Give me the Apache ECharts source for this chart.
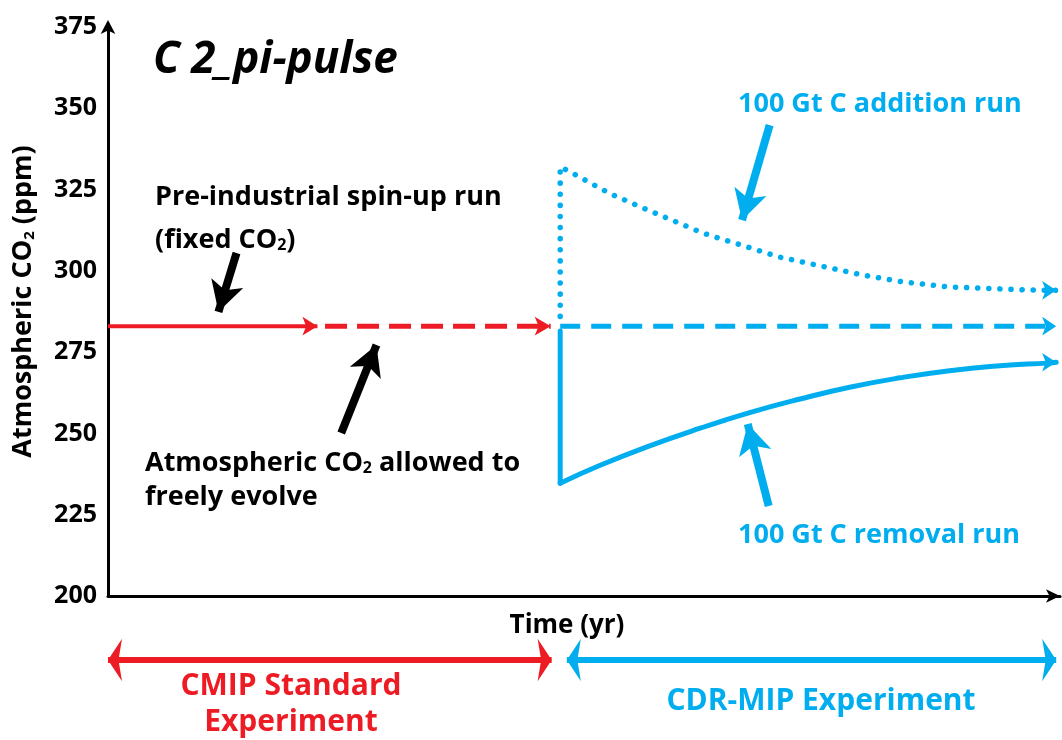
<!DOCTYPE html>
<html>
<head>
<meta charset="utf-8">
<script src="https://cdn.jsdelivr.net/npm/echarts@6/dist/echarts.min.js"></script>
<style>
  html, body { margin: 0; padding: 0; background: #fff; }
  #chart { width: 1062px; height: 740px; }
</style>
</head>
<body>
<div id="chart"></div>
<script>
/* C2_pi-pulse schematic: spin-up, free-running control, +/-100 GtC pulses.
   Time axis is unitless (0..100), CO2 in ppm. */
const RED = "#ed1c24", BLUE = "#00aeef", FONT = "'Open Sans'";

const Y_TICKS = [200, 225, 250, 275, 300, 325, 350, 375];
const PI_CO2 = 283;                       // pre-industrial level (ppm)
const spinupX = [0, 22.0];                // fixed-CO2 spin-up
const freeX = [22.8, 46.5];               // CO2 allowed to evolve
const PULSE_X = 47.5;
const controlX = [47.5, 99.6];
const additionX = [47.5, 47.5, 48.5, 52.7, 55.9, 62.5, 70.6, 79.3, 83.5, 88.1, 96.8, 99.6];
const additionY = [286, 332, 330.5, 323.8, 319.7, 311.6, 304.2, 298.7, 296.6, 295.1, 294.1, 294.0];
const removalDropY = [281.5, 234.7];      // instantaneous drop at the pulse
const removalX = [47.5, 51.7, 56.9, 62.2, 67.4, 72.7, 77.9, 83.2, 88.4, 93.7, 98.9, 99.6];
const removalY = [234.7, 240.2, 246.2, 251.6, 256.4, 260.6, 264.2, 267.1, 269.3, 270.8, 271.7, 271.9];
// bottom phase bars (same time units)
const cmipSpan = [0, 46.6];
const cdrSpan = [48.2, 99.6];
// annotation arrows: [tailX, tailY, tipX, tipY]
const blackArrows = [[13.5, 305.5, 11.6, 287.4], [24.5, 250.1, 28.2, 277.2]];
const blueArrows = [[69.5, 344.8, 66.6, 315.6], [69.4, 227.7, 67.2, 252.9]];

const arrowEnd = (x, y, color, size) => ({
  value: [x, y], symbol: "arrow", symbolRotate: -90, symbolSize: size,
  itemStyle: { color: color, borderWidth: 0 },
});
const toPairs = (xs, ys) => xs.map((x, i) => [x, ys[i]]);
const withEnd = (pts, color, size) => {
  const out = pts.slice(0, -1);
  const last = pts[pts.length - 1];
  out.push(arrowEnd(last[0], last[1], color, size));
  return out;
};
const annot = (list, color) => list.map((a) => [
  { coord: [a[0], a[1]], lineStyle: { color: color, width: 8, type: "solid" }, symbol: "none" },
  { coord: [a[2], a[3]], symbol: "arrow" },
]);

const chart = echarts.init(document.getElementById("chart"));
const txt = (s, x, y, color, size, extra) => ({
  type: "text", x: x, y: y, silent: true,
  style: Object.assign({
    text: s, fill: color, font: `bold ${size}px ${FONT}`, verticalAlign: "middle",
    rich: { s: { fontSize: Math.round(size * 0.58), fontWeight: "bold", fontFamily: FONT, fill: color, verticalAlign: "bottom", lineHeight: 12 } },
  }, extra || {}),
});

chart.setOption({
  animation: false,
  grid: [
    { left: 108, right: 2, top: 27, bottom: 144 },
    { left: 108, right: 2, top: 645, height: 30 },
  ],
  xAxis: [
    { type: "value", min: 0, max: 100, gridIndex: 0,
      name: "Time (yr)", nameLocation: "middle", nameGap: 17,
      nameTextStyle: { fontFamily: FONT, fontWeight: "bold", fontSize: 26, color: "#000", padding: [0, 34, 0, 0] },
      axisLine: { lineStyle: { color: "#000", width: 3 }, symbol: ["none", "arrow"], symbolSize: [10, 14] },
      axisTick: { show: false }, axisLabel: { show: false }, splitLine: { show: false } },
    { type: "value", min: 0, max: 100, gridIndex: 1, show: false },
  ],
  yAxis: [
    { type: "value", min: Y_TICKS[0], max: Y_TICKS[Y_TICKS.length - 1], interval: 25, gridIndex: 0,
      name: "Atmospheric CO{s|2} (ppm)", nameLocation: "middle", nameGap: 71,
      nameTextStyle: { fontFamily: FONT, fontWeight: "bold", fontSize: 27, color: "#000", padding: [0, 0, 0, 20],
        rich: { s: { fontFamily: FONT, fontWeight: "bold", fontSize: 15, color: "#000", verticalAlign: "bottom", lineHeight: 12 } } },
      axisLine: { show: true, lineStyle: { color: "#000", width: 3 }, symbol: ["none", "arrow"], symbolSize: [11, 14], symbolOffset: [0, 7] },
      axisTick: { show: false },
      axisLabel: { fontFamily: FONT, fontWeight: "bold", fontSize: 25, color: "#000", margin: 11 },
      splitLine: { show: false } },
    { type: "value", min: -1, max: 1, gridIndex: 1, show: false },
  ],
  series: [
    { type: "line", name: "spin-up", data: withEnd([[spinupX[0], PI_CO2], [spinupX[1], PI_CO2]], RED, [14, 15]),
      symbol: "none", showAllSymbol: true, clip: false,
      lineStyle: { color: RED, width: 4 },
      markLine: { silent: true, animation: false, label: { show: false }, symbolSize: [25, 30], data: annot(blackArrows, "#000") } },
    { type: "line", name: "free", data: withEnd([[freeX[0], PI_CO2], [freeX[1], PI_CO2]], RED, [14, 16]),
      symbol: "none", showAllSymbol: true, clip: false,
      lineStyle: { color: RED, width: 5, type: [22, 10] } },
    { type: "line", name: "control", data: withEnd([[controlX[0], PI_CO2], [controlX[1], PI_CO2]], BLUE, [14, 14]),
      symbol: "none", showAllSymbol: true, clip: false,
      lineStyle: { color: BLUE, width: 5, type: [20, 11] } },
    { type: "line", name: "addition", data: withEnd(toPairs(additionX, additionY), BLUE, [14, 14]),
      symbol: "none", showAllSymbol: true, clip: false,
      lineStyle: { color: BLUE, width: 5.5, type: [0.1, 11], cap: "round", join: "round" },
      markLine: { silent: true, animation: false, label: { show: false }, symbolSize: [25, 30], data: annot(blueArrows, BLUE) } },
    { type: "line", name: "removal drop", data: removalDropY.map((y) => [PULSE_X, y]),
      symbol: "none", clip: false,
      lineStyle: { color: BLUE, width: 5, cap: "round" } },
    { type: "line", name: "removal", data: withEnd(toPairs(removalX, removalY), BLUE, [14, 14]),
      symbol: "none", showAllSymbol: true, clip: false, smooth: 0.5,
      lineStyle: { color: BLUE, width: 5, cap: "round", join: "round" } },
    // phase bars below the axis
    { type: "line", xAxisIndex: 1, yAxisIndex: 1, clip: false, symbol: "none", showAllSymbol: true,
      lineStyle: { color: RED, width: 6 },
      data: [
        { value: [cmipSpan[0], 0], symbol: "arrow", symbolRotate: 90, symbolSize: [32, 14], itemStyle: { color: RED } },
        { value: [cmipSpan[1], 0], symbol: "arrow", symbolRotate: -90, symbolSize: [32, 14], itemStyle: { color: RED } },
      ] },
    { type: "line", xAxisIndex: 1, yAxisIndex: 1, clip: false, symbol: "none", showAllSymbol: true,
      lineStyle: { color: BLUE, width: 6 },
      data: [
        { value: [cdrSpan[0], 0], symbol: "arrow", symbolRotate: 90, symbolSize: [32, 14], itemStyle: { color: BLUE } },
        { value: [cdrSpan[1], 0], symbol: "arrow", symbolRotate: -90, symbolSize: [32, 14], itemStyle: { color: BLUE } },
      ] },
  ],
  graphic: [
    { type: "text", x: 153, y: 60, silent: true,
      style: { text: "C 2_pi-pulse", fill: "#000", font: `italic bold 44px ${FONT}`, verticalAlign: "middle" } },
    txt("Pre-industrial spin-up run", 155, 197, "#000", 27),
    txt("(fixed CO{s|2})", 155, 240, "#000", 27),
    txt("Atmospheric CO{s|2} allowed to", 145, 463, "#000", 27),
    txt("freely evolve", 145, 497, "#000", 27),
    txt("100 Gt C addition run", 738, 104, BLUE, 27),
    txt("100 Gt C removal run", 738, 535, BLUE, 27),
    txt("CMIP Standard", 291, 686, RED, 30, { align: "center" }),
    txt("Experiment", 291, 722, RED, 30, { align: "center" }),
    txt("CDR-MIP Experiment", 821, 701, BLUE, 30, { align: "center" }),
  ],
});
</script>
</body>
</html>
